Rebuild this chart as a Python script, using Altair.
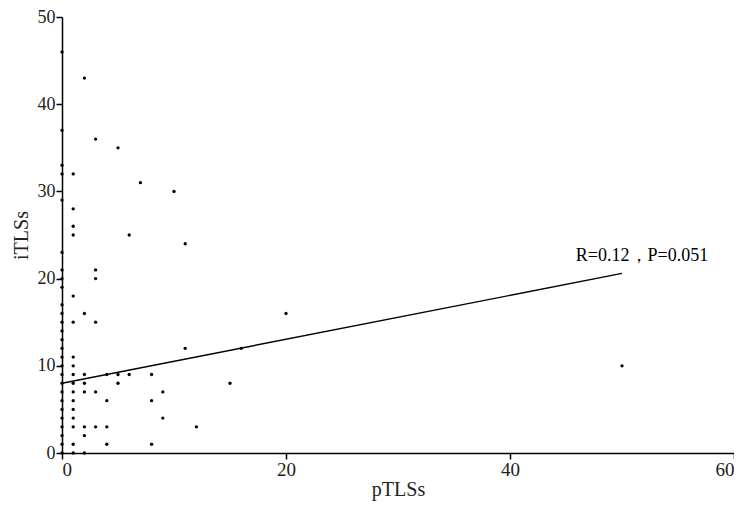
import altair as alt
import pandas as pd

# Scatter data (pTLSs, iTLSs)
ptls = ([0] * 27 + [1] * 17 + [2] * 8 + [3] * 6 + [4] * 4 + [5] * 3 + [6] * 2
        + [7] + [8] * 3 + [9] * 2 + [10] + [11] * 2 + [12] + [15] + [16] + [20] + [50])
itls = ([0, 1, 2, 3, 4, 5, 6, 7, 8, 9, 10, 11, 12, 13, 14, 15, 16, 17, 19, 20, 21, 23, 29, 32, 33, 37, 46]
        + [0, 1, 3, 4, 5, 6, 7, 8, 9, 10, 11, 15, 18, 25, 26, 28, 32]
        + [0, 2, 3, 7, 8, 9, 16, 43]
        + [3, 7, 15, 20, 21, 36]
        + [1, 3, 6, 9]
        + [8, 9, 35]
        + [9, 25]
        + [31]
        + [1, 6, 9]
        + [4, 7]
        + [30]
        + [12, 24]
        + [3]
        + [8]
        + [12]
        + [16]
        + [10])

# Fitted line endpoints
line_x = [0, 50]
line_y = [8.0, 20.6]

annotation = "R=0.12，P=0.051"

pts = pd.DataFrame({"pTLSs": ptls, "iTLSs": itls})
fit = pd.DataFrame({"pTLSs": line_x, "iTLSs": line_y})
lab = pd.DataFrame({"pTLSs": [50], "iTLSs": [20.6], "t": [annotation]})

FONT = "Liberation Serif"

xs = alt.Scale(domain=[0, 60], nice=False, zero=False)
ys = alt.Scale(domain=[0, 50], nice=False, zero=False)

xax = alt.Axis(values=[0, 20, 40, 60], grid=False, title="pTLSs")
yax = alt.Axis(values=[0, 10, 20, 30, 40, 50], grid=False, title="iTLSs", labelFontSize=18)

points = alt.Chart(pts).mark_circle(size=11, color="black", opacity=1).encode(
    x=alt.X("pTLSs:Q", scale=xs, axis=xax),
    y=alt.Y("iTLSs:Q", scale=ys, axis=yax),
)

line = alt.Chart(fit).mark_line(color="black", strokeWidth=1.4).encode(
    x=alt.X("pTLSs:Q", scale=xs),
    y=alt.Y("iTLSs:Q", scale=ys),
)

text = alt.Chart(lab).mark_text(
    font=FONT, fontSize=18, color="black", align="center", baseline="bottom", dx=20, dy=-8
).encode(
    x=alt.X("pTLSs:Q", scale=xs),
    y=alt.Y("iTLSs:Q", scale=ys),
    text="t:N",
)

chart = (points + line + text).properties(
    width=672, height=436,
    autosize=alt.AutoSizeParams(type="none"),
    padding={"left": 54, "top": 9, "right": 0, "bottom": 50},
).configure_view(stroke=None).configure_axis(
    domainColor="black", domainWidth=1.5, tickColor="black", tickWidth=1.5, tickSize=6,
    labelFont=FONT, labelFontSize=19, labelColor="#222", titleFont=FONT, titleFontSize=20,
    titleFontWeight="normal", titleColor="#222", labelPadding=1,
).configure_axisX(titlePadding=0).configure_axisY(titlePadding=6)

chart.save("out.html", embed_options={"renderer": "svg", "actions": False})
